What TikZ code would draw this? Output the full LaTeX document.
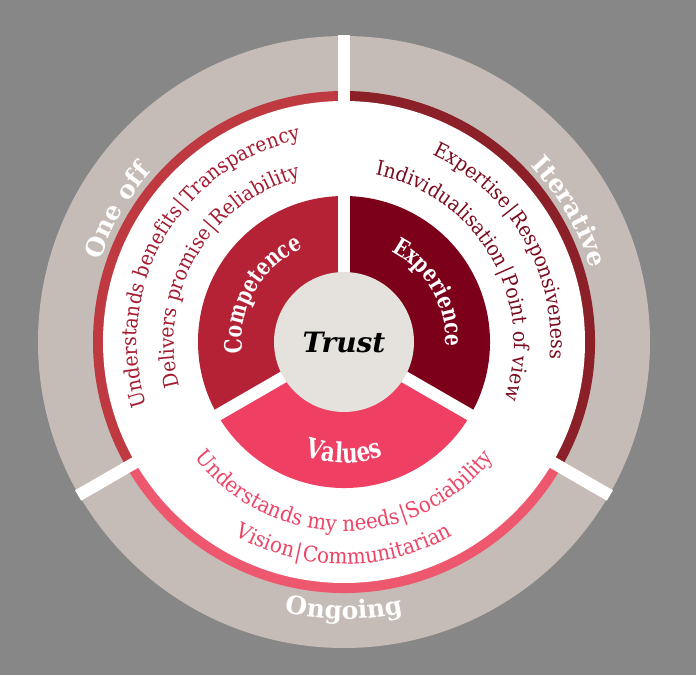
\documentclass[tikz,border=0pt]{standalone}
\usepackage{fontspec}
\setmainfont{DejaVu Serif}
\newfontfamily\narrowserif[FakeStretch=0.92]{DejaVu Serif}
\newfontfamily\pillarserif[FakeStretch=0.78]{DejaVu Serif}
\usetikzlibrary{decorations.text}

\definecolor{bggray}{HTML}{878787}
\definecolor{ringbeige}{HTML}{C6BCB7}
\definecolor{compfill}{HTML}{B52135}
\definecolor{expfill}{HTML}{7D001A}
\definecolor{valfill}{HTML}{EF3F62}
\definecolor{compband}{HTML}{BE3940}
\definecolor{expband}{HTML}{8B2028}
\definecolor{valband}{HTML}{EE586E}
\definecolor{comptext}{HTML}{A51C30}
\definecolor{exptext}{HTML}{7A0C1E}
\definecolor{valtext}{HTML}{EE4466}
\definecolor{trustfill}{HTML}{E5E1DC}

\tikzset{
  gapline/.style={white, line width=12pt},
  trustcircle/.style={circle, fill=trustfill, minimum size=140pt, inner sep=0pt,
    font=\fontsize{28}{30}\selectfont\bfseries\itshape},
}

% text on an arc: radius, start angle, end angle, format, text
\newcommand\arctext[5]{%
  \path[decorate, decoration={text along path, text align=center,
    text format delimiters={[}{]}, text={[#4]#5}}]
    (#2:#1) arc[start angle=#2, end angle=#3, radius=#1];}

\newcommand\attrfont{\narrowserif\fontsize{20.5}{22}\selectfont}
\newcommand\valattrfont{\narrowserif\fontsize{21.5}{23}\selectfont}
\newcommand\pillarfont{\pillarserif\fontsize{24}{26}\selectfont\bfseries\color{white}}
\newcommand\ringfont{\fontsize{25}{27}\selectfont\bfseries\color{white}}
\newcommand\sep{{\kern1.5pt|\kern1.5pt}}

\begin{document}
\begin{tikzpicture}[x=1pt,y=1pt]
\useasboundingbox (-344,-333) rectangle (352,342);
\fill[bggray] (-344,-333) rectangle (352,342);
% outer ring
\fill[ringbeige] (0,0) circle (306pt);
% coloured bands
\fill[compband] (0,0) -- (90:251pt) arc[start angle=90, end angle=210, radius=251pt] -- cycle;
\fill[valband] (0,0) -- (210:251pt) arc[start angle=210, end angle=330, radius=251pt] -- cycle;
\fill[expband] (0,0) -- (330:251pt) arc[start angle=330, end angle=450, radius=251pt] -- cycle;
\fill[white] (0,0) circle (241pt);
% pillars
\fill[compfill] (0,0) -- (90:146pt) arc[start angle=90, end angle=210, radius=146pt] -- cycle;
\fill[valfill] (0,0) -- (210:146pt) arc[start angle=210, end angle=330, radius=146pt] -- cycle;
\fill[expfill] (0,0) -- (330:146pt) arc[start angle=330, end angle=450, radius=146pt] -- cycle;
% gaps
\draw[gapline] (0,0) -- (90:307pt);
\draw[gapline] (0,0) -- (210:307pt);
\draw[gapline] (0,0) -- (330:307pt);
% centre
\node[trustcircle] (trust) at (0,0) {Trust};

% ring labels
\arctext{257pt}{210}{90}{\ringfont}{One off}
\arctext{257pt}{90}{-30}{\ringfont}{Iterative}
\arctext{277pt}{210}{330}{\ringfont}{Ongoing}

% pillar labels
\arctext{102pt}{210}{90}{\pillarfont}{Competence}
\arctext{102pt}{90}{-30}{\pillarfont}{Experience}
\arctext{121pt}{210}{330}{\pillarfont\fontsize{27.5}{29}\selectfont}{Values}

% attributes
\arctext{207pt}{210}{90}{\attrfont\color{comptext}}{Understands benefits\sep Transparency}
\arctext{170pt}{210}{90}{\attrfont\color{comptext}}{Delivers promise\sep Reliability}
\arctext{207pt}{90}{-30}{\attrfont\color{exptext}}{Expertise\sep Responsiveness}
\arctext{170pt}{90}{-30}{\attrfont\color{exptext}}{Individualisation\sep Point of view}
\arctext{189pt}{210}{330}{\valattrfont\color{valtext}}{Understands my needs\sep Sociability}
\arctext{222pt}{210}{330}{\valattrfont\color{valtext}}{Vision\sep Communitarian}
\end{tikzpicture}
\end{document}
